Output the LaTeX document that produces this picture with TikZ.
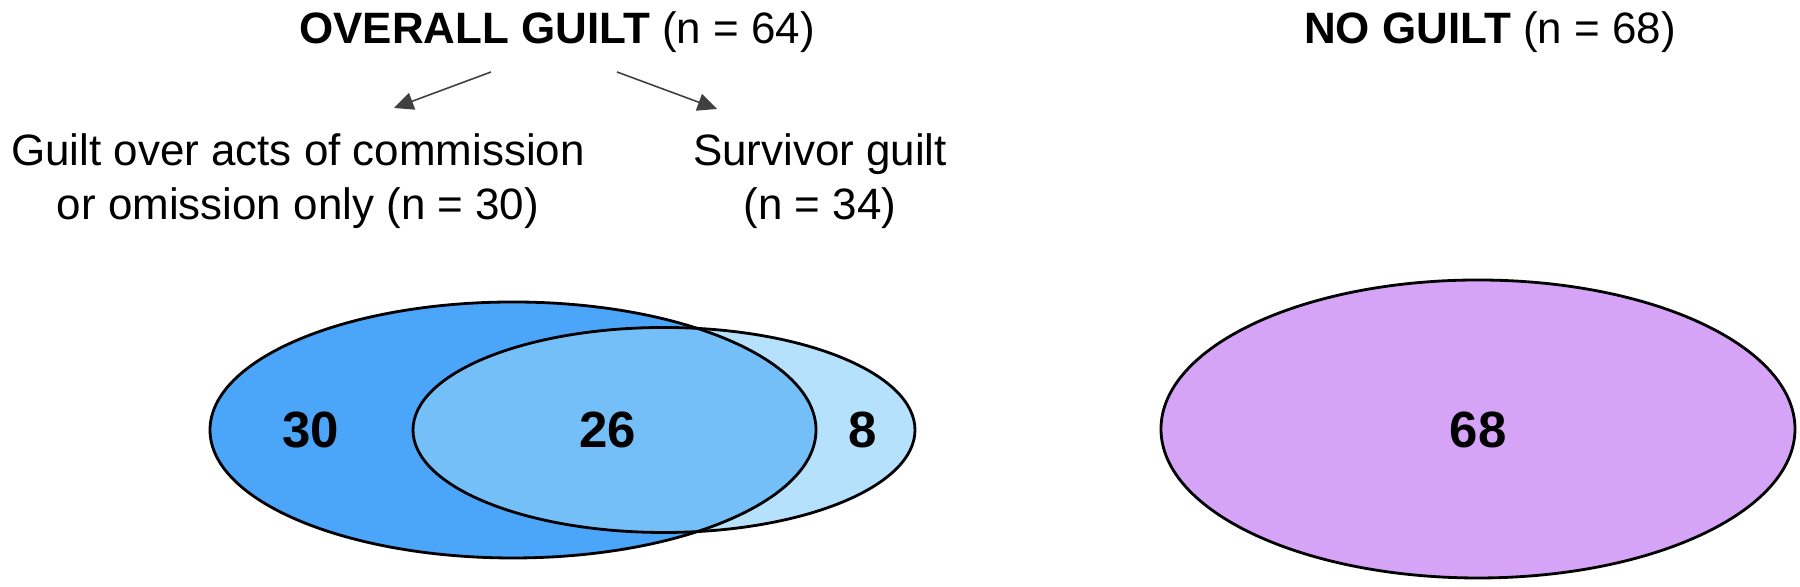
\documentclass[tikz,border=0pt]{standalone}
\usepackage{fontspec}
\setmainfont{Liberation Sans}
\usetikzlibrary{arrows.meta}
\definecolor{guiltblue}{HTML}{4BA5F8}
\definecolor{bothblue}{HTML}{75BFF9}
\definecolor{survblue}{HTML}{B5E1FC}
\definecolor{noguilt}{HTML}{D5A4F6}
\tikzset{
    heading/.style={font=\fontsize{12.5}{15.3}\selectfont},
    count/.style={font=\fontsize{14.5}{16}\selectfont\bfseries},
    split/.style={draw=black!75, line width=0.45pt, -{Triangle[length=5.5pt,width=5pt]}},
    setline/.style={draw=black, line width=0.8pt}
}
\begin{document}
\begin{tikzpicture}
    \useasboundingbox (0,0) rectangle (18,5.87);

    % Draw headings
    \node[heading] (overall) at (5.57,5.545) {\textbf{OVERALL GUILT} (n = 64)};
    \node[heading] (noguilt) at (14.90,5.545) {\textbf{NO GUILT} (n = 68)};
    \node[heading, align=center] (acts) at (2.98,4.06) {Guilt over acts of commission\\or omission only (n = 30)};
    \node[heading, align=center] (survivor) at (8.20,4.06) {Survivor guilt\\(n = 34)};

    % Draw split arrows
    \coordinate (leftstart) at (4.91,5.15);
    \coordinate (leftend) at (3.94,4.79);
    \coordinate (rightstart) at (6.17,5.15);
    \coordinate (rightend) at (7.17,4.78);
    \draw[split] (leftstart) -- (leftend);
    \draw[split] (rightstart) -- (rightend);

    % Draw guilt sets
    \fill[guiltblue] (5.13,1.57) ellipse (3.03 and 1.28);
    \fill[survblue] (6.64,1.57) ellipse (2.51 and 1.025);
    \begin{scope}
        \clip (5.13,1.57) ellipse (3.03 and 1.28);
        \fill[bothblue] (6.64,1.57) ellipse (2.51 and 1.025);
    \end{scope}
    \draw[setline] (5.13,1.57) ellipse (3.03 and 1.28);
    \draw[setline] (6.64,1.57) ellipse (2.51 and 1.025);

    % Draw no guilt set
    \filldraw[setline, fill=noguilt] (14.78,1.58) ellipse (3.17 and 1.49);

    % Counts
    \node[count] (actsonly) at (3.11,1.57) {30};
    \node[count] (both) at (6.08,1.57) {26};
    \node[count] (survonly) at (8.63,1.57) {8};
    \node[count] (none) at (14.78,1.57) {68};
\end{tikzpicture}
\end{document}
